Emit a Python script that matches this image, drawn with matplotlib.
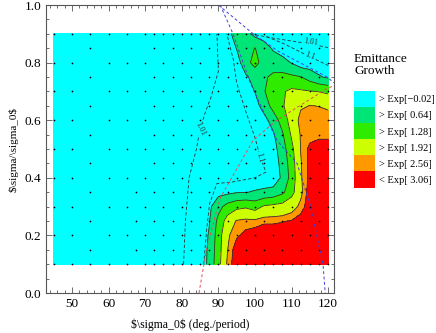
import numpy as np
import matplotlib
matplotlib.use("Agg")
import matplotlib.pyplot as plt
from matplotlib.patches import Patch

# ---------------------------------------------------------
# data
# ---------------------------------------------------------
# log of the emittance growth on a grid (rows = sigma/sigma0, cols = sigma0)
x_cols = [45, 80, 82.5, 85, 87.5, 90, 92.5, 95, 97.5, 100, 102.5, 105,
          107.5, 110, 112.5, 115, 117.5, 120]
y_rows = [0.10, 0.15, 0.20, 0.25, 0.30, 0.35, 0.40, 0.45, 0.50, 0.55,
          0.60, 0.65, 0.70, 0.75, 0.80, 0.85, 0.90]
log_growth = [
    [0.3, 0.3, 0.3, 0.15, 0.83, 1.69, 2.65, 3.00, 3.00, 3.00, 3.00, 3.00, 3.00, 3.00, 3.00, 3.00, 3.00, 3.00],
    [0.3, 0.3, 0.3, 0.20, 0.78, 1.65, 2.55, 3.00, 3.00, 3.00, 3.00, 3.00, 3.00, 3.00, 3.00, 3.00, 3.00, 3.00],
    [0.3, 0.3, 0.3, 0.25, 0.70, 1.60, 2.50, 2.76, 2.90, 3.00, 3.00, 3.00, 3.00, 3.00, 3.00, 3.00, 3.00, 3.00],
    [0.3, 0.3, 0.3, 0.30, 0.60, 1.46, 2.20, 2.60, 2.67, 2.65, 2.76, 2.76, 2.79, 2.83, 2.95, 3.00, 3.00, 3.00],
    [0.3, 0.3, 0.3, 0.30, 0.50, 1.07, 1.52, 1.76, 1.84, 1.66, 2.00, 2.09, 2.16, 2.36, 2.66, 3.00, 3.00, 3.00],
    [0.3, 0.3, 0.3, 0.30, 0.35, 0.45, 0.50, 0.60, 0.62, 0.69, 0.76, 0.86, 1.15, 1.70, 2.45, 3.00, 3.00, 3.00],
    [0.3, 0.3, 0.3, 0.30, 0.30, 0.30, 0.30, 0.30, 0.30, 0.30, 0.30, 0.26, 0.76, 1.52, 2.51, 2.90, 3.00, 3.00],
    [0.3, 0.3, 0.3, 0.30, 0.30, 0.30, 0.30, 0.30, 0.30, 0.30, 0.30, 0.30, 0.85, 1.60, 2.53, 2.90, 3.00, 3.00],
    [0.3, 0.3, 0.3, 0.30, 0.30, 0.30, 0.30, 0.30, 0.30, 0.30, 0.30, 0.40, 0.98, 1.75, 2.57, 2.90, 3.00, 3.00],
    [0.3, 0.3, 0.3, 0.30, 0.30, 0.30, 0.30, 0.30, 0.30, 0.30, 0.30, 0.55, 1.20, 2.00, 2.60, 2.68, 2.72, 2.72],
    [0.3, 0.3, 0.3, 0.30, 0.30, 0.30, 0.30, 0.30, 0.30, 0.30, 0.40, 0.95, 1.55, 2.20, 2.70, 2.72, 2.72, 2.70],
    [0.3, 0.3, 0.3, 0.30, 0.30, 0.30, 0.30, 0.30, 0.30, 0.35, 0.95, 1.50, 1.85, 2.25, 2.50, 2.57, 2.55, 2.50],
    [0.3, 0.3, 0.3, 0.30, 0.30, 0.30, 0.30, 0.30, 0.30, 0.66, 1.25, 1.55, 1.85, 2.05, 2.00, 1.95, 1.90, 1.80],
    [0.3, 0.3, 0.3, 0.30, 0.30, 0.30, 0.30, 0.30, 0.55, 0.85, 1.20, 1.40, 1.45, 1.40, 1.30, 1.00, 0.70, 0.55],
    [0.3, 0.3, 0.3, 0.30, 0.30, 0.30, 0.30, 0.35, 1.05, 1.50, 1.00, 1.00, 0.90, 0.60, 0.30, 0.30, 0.30, 0.30],
    [0.3, 0.3, 0.3, 0.30, 0.30, 0.30, 0.30, 0.66, 1.00, 1.30, 0.95, 0.55, 0.30, 0.30, 0.30, 0.30, 0.30, 0.30],
    [0.3, 0.3, 0.3, 0.30, 0.30, 0.30, 0.45, 0.90, 0.85, 0.45, 0.30, 0.30, 0.30, 0.30, 0.30, 0.30, 0.30, 0.30],
]

levels = [-0.02, 0.64, 1.28, 1.92, 2.56, 2.81, 3.06]
level_colors = ["#00FFFF", "#00E676", "#2EEB00", "#CCFF00", "#FF9900", "#FF0000"]
legend_labels = ["> Exp[\u22120.02]", "> Exp[ 0.64]", "> Exp[ 1.28]",
                 "> Exp[ 1.92]", "> Exp[ 2.56]", "< Exp[ 3.06]"]

# simulation points
pts_edge_x = [45, 50, 55, 60, 65, 70, 72.5, 75, 77.5, 80, 82.5, 85, 87.5, 90, 92.5,
              95, 97.5, 100, 102.5, 105, 107.5, 110, 112.5, 115, 117.5, 120]
pts_edge_y = [0.1, 0.9]
pts_full_x = [45, 50, 60, 65, 70, 75, 80, 85, 90, 95, 100, 105, 110, 115, 120]
pts_full_y = [0.2, 0.3, 0.4, 0.5, 0.6, 0.7, 0.8]
pts_half_x = [55, 72.5, 77.5, 82.5, 87.5, 92.5, 97.5, 102.5, 107.5, 112.5, 117.5]
pts_half_y = [0.45, 0.55, 0.65, 0.75, 0.85]
pts_low_x = [55, 67.5, 72.5, 77.5, 82.5, 87.5, 92.5, 97.5, 102.5, 107.5, 112.5, 117.5]
pts_low_y = [0.15, 0.25, 0.35]

# dashed contours of the growth (linear) and the stop-band lines
c101a_x = [80.5, 81.0, 82.0, 84.0, 85.0, 86.5, 88.0, 90.0, 89.6]
c101a_y = [0.10, 0.25, 0.40, 0.50, 0.57, 0.63, 0.68, 0.77, 0.90]
c101b_x = [98.7, 105.0, 110.0, 115.0, 120.0]
c101b_y = [0.90, 0.885, 0.875, 0.865, 0.852]
c11a_x = [86.0, 86.8, 87.6, 89.6, 94.1, 100.0, 103.0, 101.5, 100.0, 97.5, 95.0, 94.1, 92.3]
c11a_y = [0.10, 0.22, 0.31, 0.38, 0.386, 0.40, 0.42, 0.47, 0.54, 0.63, 0.73, 0.81, 0.90]
c11b_x = [103.2, 108.0, 114.6, 120.0]
c11b_y = [0.89, 0.865, 0.823, 0.79]
red_x = [84.7, 86.9, 90.5, 99.5, 106.0, 119.7, 121.6]
red_y = [0.0, 0.16, 0.33, 0.53, 0.60, 0.71, 0.72]
blue1_x = [90.5, 94.0, 98.7, 106.0, 111.5, 115.0, 118.6, 119.2]
blue1_y = [1.0, 0.9, 0.73, 0.53, 0.45, 0.31, 0.10, 0.0]
blue2_x = [90.0, 99.5, 106.3, 119.7, 121.6]
blue2_y = [1.0, 0.9, 0.84, 0.75, 0.73]

# ---------------------------------------------------------
# plot
# ---------------------------------------------------------
plt.rcParams["font.family"] = ["Liberation Serif", "DejaVu Serif"]

fig = plt.figure(figsize=(4.36, 3.33), dpi=100)
ax = fig.add_axes([46 / 436, 40 / 333, 288 / 436, 288 / 333])

X, Y = np.meshgrid(x_cols, y_rows)
Z = np.array(log_growth)
ax.contourf(X, Y, Z, levels=levels, colors=level_colors)
ax.contour(X, Y, Z, levels=levels[1:6], colors="#333333", linewidths=0.6)

dash = (0, (4, 2.5))
for xs, ys in [(c101a_x, c101a_y), (c101b_x, c101b_y), (c11a_x, c11a_y), (c11b_x, c11b_y)]:
    ax.plot(xs, ys, color="#333333", linestyle=dash, linewidth=0.6)
ax.plot(red_x, red_y, color="#E05050", linestyle=(0, (3, 2.5)), linewidth=0.7)
ax.plot(blue1_x, blue1_y, color="#4040E0", linestyle=(0, (3, 2.5)), linewidth=0.7)
ax.plot(blue2_x, blue2_y, color="#4040E0", linestyle=(0, (3, 2.5)), linewidth=0.7)

lbl = dict(fontsize=6, ha="center", va="center", color="#333333",
           bbox=dict(facecolor="#00FFFF", edgecolor="none", pad=0.3))
ax.text(85.0, 0.57, "1.01", rotation=-65, **lbl)
ax.text(101.2, 0.47, "1.1", rotation=-75, **lbl)
ax.text(115.2, 0.873, "1.01", rotation=-8, **lbl)
ax.text(115.0, 0.822, "1.1", rotation=-20, **lbl)

# simulation points
px, py = [], []
for xs, ys in [(pts_edge_x, pts_edge_y), (pts_full_x, pts_full_y),
               (pts_half_x, pts_half_y), (pts_low_x, pts_low_y)]:
    for yv in ys:
        px += xs
        py += [yv] * len(xs)
ax.scatter(px, py, s=1.5, color="black", zorder=5, linewidths=0)

ax.set_xlim(42.9, 121.6)
ax.set_ylim(0, 1)
ax.set_xticks(range(50, 121, 10))
ax.set_xticks(np.arange(44, 121, 2), minor=True)
ax.set_yticks(np.arange(0, 1.01, 0.2))
ax.set_yticks(np.arange(0, 1.01, 0.05), minor=True)
ax.yaxis.set_major_formatter(plt.FormatStrFormatter("%.1f"))
ax.tick_params(which="both", direction="in", top=True, right=True, color="#555555",
               labelsize=9.5, width=0.6)
ax.tick_params(which="major", length=4)
ax.tick_params(which="minor", length=2)
for s in ax.spines.values():
    s.set_color("#555555")
    s.set_linewidth(0.8)

ax.set_xlabel(r"\$\sigma_0\$ (deg./period)", fontsize=8.5, labelpad=6)
ax.set_ylabel(r"\$\sigma/\sigma_0\$", fontsize=8, labelpad=4)

# legend
fig.text(354 / 436, 1 - 65 / 333, "Emittance\nGrowth", fontsize=9.5, ha="left", va="center",
         linespacing=1.1)
handles = [Patch(facecolor=c, edgecolor="none") for c in level_colors]
fig.legend(handles, legend_labels, loc="upper left", bbox_to_anchor=(354 / 436, 1 - 91 / 333),
           frameon=False, fontsize=7.5, handlelength=2.0, handleheight=2.0, labelspacing=0,
           handletextpad=0.4, borderpad=0, borderaxespad=0)

fig.savefig("out.png", dpi=100)
